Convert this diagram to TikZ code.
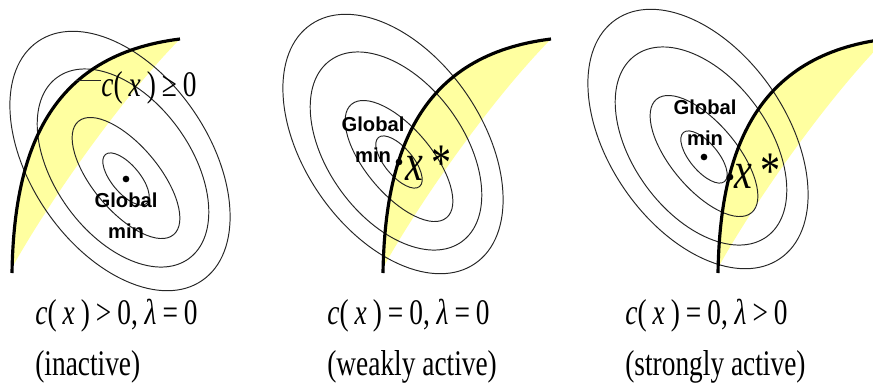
\documentclass[tikz,border=0pt]{standalone}
\usepackage{fontspec}
\usepackage{tikz}
\newfontfamily\capfont{Liberation Serif}[FakeStretch=0.76]
\newfontfamily\minfont{Liberation Sans}
\definecolor{feasyellow}{RGB}{255,255,160}

\begin{document}
\begin{tikzpicture}[x=0.02cm, y=-0.02cm,
    contour/.style={line width=0.55pt, black!85},
    boundary/.style={line width=1.8pt},
    feasible/.style={fill=feasyellow},
    dotmark/.style={circle, fill, inner sep=0pt, minimum size=3.8pt},
    mintext/.style={font=\minfont\bfseries\fontsize{11.5}{17.6}\selectfont,
                    align=center, inner sep=0pt, anchor=base},
    cond/.style={font=\capfont\fontsize{20.5}{24}\selectfont,
                 inner sep=0pt, anchor=base west},
    xstar/.style={font=\capfont\fontsize{30}{34}\selectfont,
                  inner sep=0pt, anchor=base west}]
    \useasboundingbox (0,0) rectangle (873,390);
    \clip (0,0) rectangle (873,390);
    % ---- feasible sets c(x) >= 0 ----
    \foreach \dx in {0,371,706} {
      \begin{scope}[shift={(\dx,0)}]
        \fill[feasible] (12,273) .. controls (14,150) and (50,55) .. (180,39)
          .. controls (120,100) and (50,200) .. (13,266) -- cycle;
      \end{scope}
    }
    % ---- level sets of f ----
    \foreach \sx/\sy in {0/0, 273/-17, 578/-22} {
      \begin{scope}[shift={(\sx,\sy)}]
        \draw[contour, shift={(120,161)}, rotate=-55.5] (0,0) ellipse [x radius=145, y radius=89];
        \draw[contour, shift={(123,168)}, rotate=-54] (0,0) ellipse [x radius=112, y radius=68];
        \draw[contour, shift={(126,178)}, rotate=-50] (0,0) ellipse [x radius=74, y radius=33];
        \draw[contour, shift={(126,179)}, rotate=-50] (0,0) ellipse [x radius=32, y radius=14];
      \end{scope}
    }
    % ---- constraint boundaries ----
    \foreach \dx in {0,371,706} {
      \begin{scope}[shift={(\dx,0)}]
        \draw[boundary] (12,273) .. controls (14,150) and (50,55) .. (180,39);
      \end{scope}
    }
    % ---- inactive ----
    \node[dotmark] (min1) at (126,179) {};
    \node[mintext] (gm1) at (126,238) {Global\\min};
    \coordinate (lead) at (76,80);
    \node[cond] (geq) at (101,96) {\textit{c}(\,\textit{x}\,)\,≥\,0};
    \draw[contour] (lead) -- (lead -| geq.west);
    \node[cond] (cond1) at (35,324) {\textit{c}(\,\textit{x}\,)\,>\,0, \textit{λ}\,=\,0};
    \node[cond] (act1) at (35,375) {(inactive)};
    % ---- weakly active ----
    \node[dotmark] (min2) at (399,162) {};
    \node[mintext] (gm2) at (373,162) {Global\\min};
    \node[xstar] (xs2) at (405,180) {\textit{x}\,*};
    \node[cond] (cond2) at (327,324) {\textit{c}(\,\textit{x}\,)\,=\,0, \textit{λ}\,=\,0};
    \node[cond] (act2) at (327,375) {(weakly active)};
    % ---- strongly active ----
    \node[dotmark] (min3) at (704,157) {};
    \node[dotmark] (opt3) at (730,177) {};
    \node[mintext] (gm3) at (705,145) {Global\\min};
    \node[xstar] (xs3) at (734,188) {\textit{x}\,*};
    \node[cond] (cond3) at (625,324) {\textit{c}(\,\textit{x}\,)\,=\,0, \textit{λ}\,>\,0};
    \node[cond] (act3) at (625,375) {(strongly active)};
\end{tikzpicture}
\end{document}
